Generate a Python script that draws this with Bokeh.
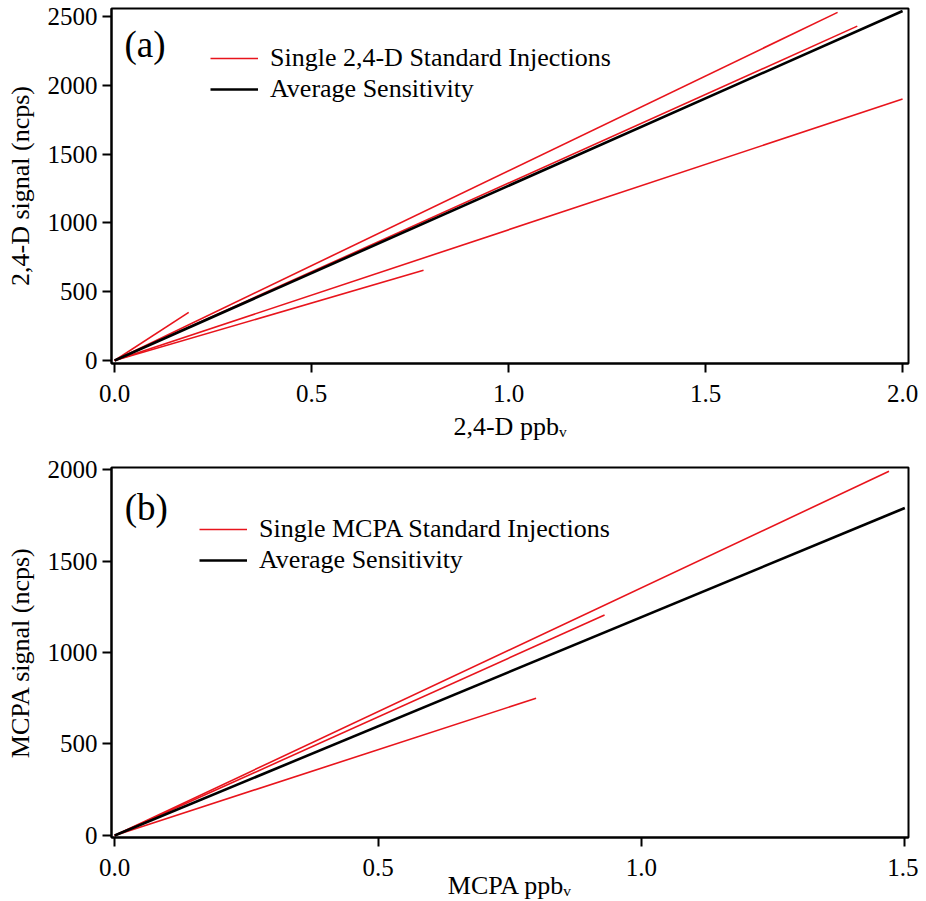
from bokeh.plotting import figure
from bokeh.layouts import column
from bokeh.models import FixedTicker, Range1d, Legend, LegendItem, Label, PrintfTickFormatter
from bokeh.embed import file_html
from bokeh.resources import INLINE

# ---- data: panel (a) 2,4-D ----
a_single_x_end = [0.188, 0.784, 2.0, 1.835, 1.885]
a_single_y_end = [350, 655, 1900, 2530, 2430]
a_avg_x = [0.0, 2.0]
a_avg_y = [0.0, 2540]
a_xticks = [0.0, 0.5, 1.0, 1.5, 2.0]
a_yticks = [0, 500, 1000, 1500, 2000, 2500]

# ---- data: panel (b) MCPA ----
b_single_x_end = [0.80, 0.93, 1.47]
b_single_y_end = [750, 1205, 1990]
b_avg_x = [0.0, 1.5]
b_avg_y = [0.0, 1790]
b_xticks = [0.0, 0.5, 1.0, 1.5]
b_yticks = [0, 500, 1000, 1500, 2000]

FONT = "Liberation Serif"
RED = "#e8141c"


def style(p, xticks, yticks):
    p.xgrid.visible = False
    p.ygrid.visible = False
    p.outline_line_color = "black"
    p.outline_line_width = 2
    for ax in (p.xaxis[0], p.yaxis[0]):
        ax.axis_line_width = 2
        ax.major_tick_line_width = 2
        ax.major_tick_in = 0
        ax.major_tick_out = 9
        ax.minor_tick_line_color = None
        ax.major_label_text_font = FONT
        ax.major_label_text_font_size = "25px"
        ax.major_label_text_color = "black"
        ax.axis_label_text_font = FONT
        ax.axis_label_text_font_size = "26px"
        ax.axis_label_text_font_style = "normal"
        ax.axis_label_text_color = "black"
    p.xaxis[0].ticker = FixedTicker(ticks=xticks)
    p.yaxis[0].ticker = FixedTicker(ticks=yticks)
    p.xaxis[0].formatter = PrintfTickFormatter(format="%.1f")
    p.yaxis[0].major_label_standoff = 5
    p.xaxis[0].major_label_standoff = 12
    p.yaxis[0].axis_label_standoff = 10


def panel(x_end, y_end, avg_x, avg_y, xticks, yticks, xr, yr, fh, tb, bb,
          xlabel, ylabel, single_label, tag, tag_xy, leg_loc):
    p = figure(frame_width=797, frame_height=fh, min_border_left=111, min_border_right=10,
               min_border_top=tb, min_border_bottom=bb,
               x_range=Range1d(*xr), y_range=Range1d(*yr),
               output_backend="svg", toolbar_location=None,
               x_axis_label=xlabel, y_axis_label=ylabel)
    style(p, xticks, yticks)
    xs = [[0.0, xe] for xe in x_end]
    ys = [[0.0, ye] for ye in y_end]
    r_red = p.multi_line(xs, ys, line_color=RED, line_width=1.6)
    r_blk = p.line(avg_x, avg_y, line_color="black", line_width=2.6)
    leg = Legend(items=[LegendItem(label=single_label, renderers=[r_red]),
                        LegendItem(label="Average Sensitivity", renderers=[r_blk])],
                 location=leg_loc, padding=0, spacing=1, margin=0,
                 glyph_width=48, glyph_height=20, label_standoff=12,
                 label_text_font=FONT, label_text_font_size="26px",
                 label_text_color="black",
                 border_line_color=None, background_fill_alpha=0)
    p.add_layout(leg)
    p.add_layout(Label(x=tag_xy[0], y=tag_xy[1], text=tag, text_font=FONT,
                       text_color="black",
                       text_font_size="37px", text_baseline="middle", text_align="left"))
    return p


p1 = panel(a_single_x_end, a_single_y_end, a_avg_x, a_avg_y, a_xticks, a_yticks,
           (-0.008, 2.015), (-22, 2558), 355, 8, 88,
           "2,4-D ppbᵥ", "2,4-D signal (ncps)", "Single 2,4-D Standard Injections",
           "(a)", (0.025, 2300), (99, 259))
p1.xaxis[0].axis_label_standoff = 7
p2 = panel(b_single_x_end, b_single_y_end, b_avg_x, b_avg_y, b_xticks, b_yticks,
           (-0.006, 1.507), (-11, 2011), 370, 16, 52,
           "MCPA ppbᵥ", "MCPA signal (ncps)", "Single MCPA Standard Injections",
           "(b)", (0.019, 1795), (88, 262))
p2.xaxis[0].axis_label_standoff = -8

layout = column(p1, p2, spacing=0)
open("out.html", "w").write(file_html(layout, INLINE))
